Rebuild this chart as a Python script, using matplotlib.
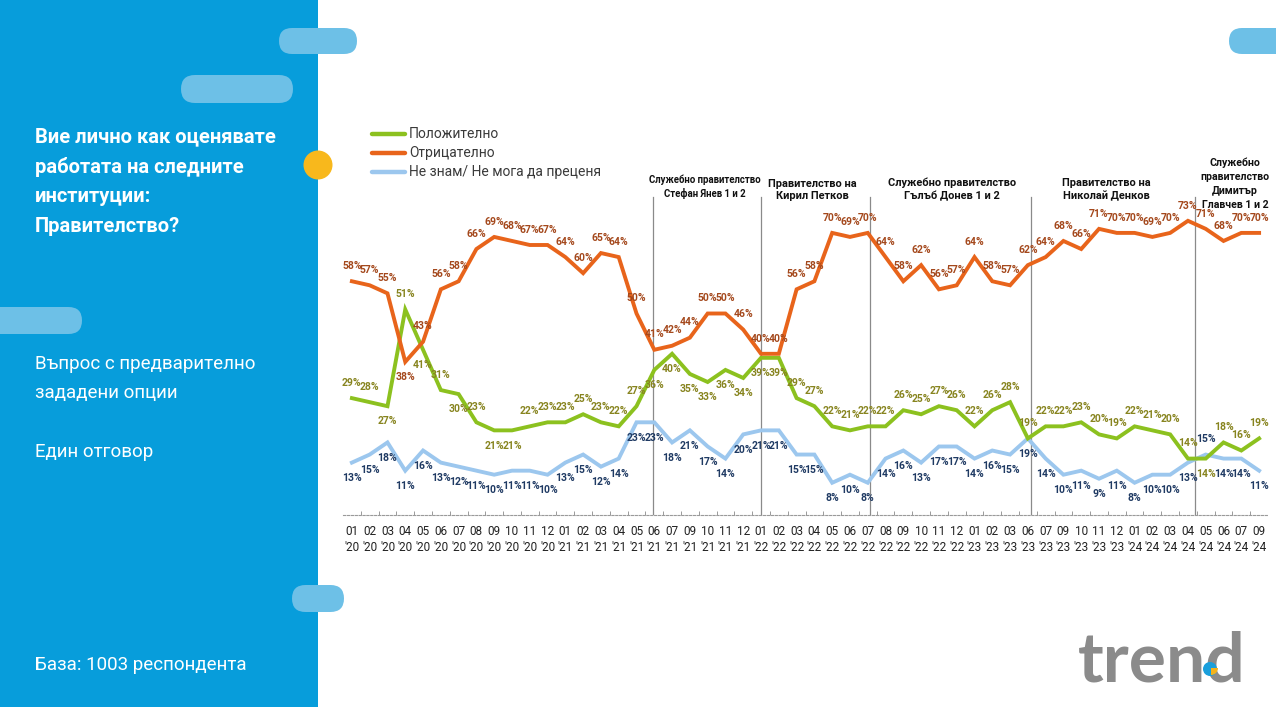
import matplotlib.pyplot as plt
from matplotlib.patches import FancyBboxPatch, Circle, Wedge, Rectangle
from matplotlib import font_manager

months = ["01\n'20", "02\n'20", "03\n'20", "04\n'20", "05\n'20", "06\n'20", "07\n'20", "08\n'20",
          "09\n'20", "10\n'20", "11\n'20", "12\n'20", "01\n'21", "02\n'21", "03\n'21", "04\n'21",
          "05\n'21", "06\n'21", "07\n'21", "09\n'21", "10\n'21", "11\n'21", "12\n'21", "01\n'22",
          "02\n'22", "03\n'22", "04\n'22", "05\n'22", "06\n'22", "07\n'22", "08\n'22", "09\n'22",
          "10\n'22", "11\n'22", "12\n'22", "01\n'23", "02\n'23", "03\n'23", "06\n'23", "07\n'23",
          "09\n'23", "10\n'23", "11\n'23", "12\n'23", "01\n'24", "02\n'24", "03\n'24", "04\n'24",
          "05\n'24", "06\n'24", "07\n'24", "09\n'24"]

positive = [29, 28, 27, 51, 41, 31, 30, 23, 21, 21, 22, 23, 23, 25, 23, 22, 27, 36, 40, 35, 33, 36,
            34, 39, 39, 29, 27, 22, 21, 22, 22, 26, 25, 27, 26, 22, 26, 28, 19, 22, 22, 23, 20, 19,
            22, 21, 20, 14, 14, 18, 16, 19]
negative = [58, 57, 55, 38, 43, 56, 58, 66, 69, 68, 67, 67, 64, 60, 65, 64, 50, 41, 42, 44, 50, 50,
            46, 40, 40, 56, 58, 70, 69, 70, 64, 58, 62, 56, 57, 64, 58, 57, 62, 64, 68, 66, 71, 70,
            70, 69, 70, 73, 71, 68, 70, 70]
dont_know = [13, 15, 18, 11, 16, 13, 12, 11, 10, 11, 11, 10, 13, 15, 12, 14, 23, 23, 18, 21, 17, 14,
             20, 21, 21, 15, 15, 8, 10, 8, 14, 16, 13, 17, 17, 14, 16, 15, 19, 14, 10, 11, 9, 11,
             8, 10, 10, 13, 15, 14, 14, 11]

series_names = ["Положително", "Отрицателно", "Не знам/ Не мога да преценя"]

# which labels go on the other side of the line
pos_below = [2, 4, 6, 8, 9, 17, 18, 19, 20, 21, 22, 23, 24, 48]
neg_below = [3]
dk_above = [48]

gov_lines = [16.9, 23.0, 29.1, 38.2, 47.4]
gov_names = ["Служебно правителство\nСтефан Янев 1 и 2",
             "Правителство на\nКирил Петков",
             "Служебно правителство\nГълъб Донев 1 и 2",
             "Правителство на\nНиколай Денков",
             "Служебно\nправителство\nДимитър\nГлавчев 1 и 2"]

names = {f.name for f in font_manager.fontManager.ttflist}
cond = 'Liberation Sans Narrow' if 'Liberation Sans Narrow' in names else 'Roboto'

GREEN = '#8cc11f'
ORANGE = '#e8641b'
LBLUE = '#9cc7ee'
PANEL = '#079ddb'
PILL = '#6dc0e7'

fig = plt.figure(figsize=(12.76, 7.07), dpi=100)

# background / decorations in pixel coordinates
bg = fig.add_axes([0, 0, 1, 1])
bg.set_xlim(0, 1276)
bg.set_ylim(707, 0)
bg.axis('off')
bg.add_patch(Rectangle((0, 0), 318, 707, facecolor=PANEL, edgecolor='none'))


def pill(x0, y0, x1, y1):
    h = y1 - y0
    bg.add_patch(FancyBboxPatch((x0, y0), x1 - x0, h,
                                boxstyle="round,pad=0,rounding_size=%f" % (h / 2),
                                facecolor=PILL, edgecolor='none'))


pill(279, 28, 357, 54)
pill(181, 75, 293, 103)
pill(-30, 307, 82, 334)
pill(292, 585, 344, 612)
pill(1229, 28, 1310, 54)
bg.add_patch(Circle((318, 165), 14.5, facecolor='#f8b81c', edgecolor='none'))

title_lines = ["Вие лично как оценявате", "работата на следните", "институции:", "Правителство?"]
for i, t in enumerate(title_lines):
    bg.text(35, 137 + i * 29.7, t, color='white', fontsize=14.5, fontweight='bold',
            family='Roboto', va='center', ha='left')
bg.text(35, 364, "Въпрос с предварително", color='white', fontsize=13.5, family='Roboto',
        va='center')
bg.text(35, 393, "зададени опции", color='white', fontsize=13.5, family='Roboto',
        va='center')
bg.text(35, 452, "Един отговор", color='white', fontsize=13.5, family='Roboto',
        va='center')
bg.text(35, 665, "База: 1003 респондента", color='white', fontsize=13.5, family='Roboto',
        va='center')

# logo
bg.text(1162, 662, "trend", color='#8b8b8b', fontsize=50, family='Lato', fontweight='bold',
        ha='center', va='center')
bg.add_patch(Circle((1210, 669), 7, facecolor='#1a9fdc', edgecolor='none', zorder=5))
bg.add_patch(Wedge((1211, 668), 7, 0, 90, facecolor='#f6b31b', edgecolor='none', zorder=6))

# legend
for i, (nm, c) in enumerate(zip(series_names, [GREEN, ORANGE, LBLUE])):
    y = 134 + i * 19
    bg.plot([372, 405], [y, y], color=c, lw=3.2, solid_capstyle='round')
    bg.text(409, y, nm, color='#3a3a3a', fontsize=10, family=cond, va='center')

# chart
ax = fig.add_axes([343 / 1276, 1 - 515 / 707, 925 / 1276, 322.4 / 707])
ax.patch.set_alpha(0)
x = list(range(len(months)))
ax.set_xlim(-0.5, len(months) - 0.5)
ax.set_ylim(0, 80)

for gx in gov_lines:
    ax.axvline(gx, 0, 0.985, color='#8a8a8a', lw=0.9, zorder=1)

ax.plot(x, dont_know, color=LBLUE, lw=2.8, zorder=3, solid_joinstyle='miter')
ax.plot(x, positive, color=GREEN, lw=2.8, zorder=4, solid_joinstyle='miter')
ax.plot(x, negative, color=ORANGE, lw=2.8, zorder=5, solid_joinstyle='miter')

lab_kw = dict(fontsize=7.5, fontweight='bold', family=cond, ha='center', va='center',
              textcoords='offset points', zorder=6)
for i in x:
    off = -11 if i in neg_below else 11
    ax.annotate(f"{negative[i]}%", (i, negative[i]), xytext=(0, off), color='#a4481c', **lab_kw)
    off = -11 if i in pos_below else 11
    ax.annotate(f"{positive[i]}%", (i, positive[i]), xytext=(0, off), color='#87841f', **lab_kw)
    off = 11 if i in dk_above else -11
    ax.annotate(f"{dont_know[i]}%", (i, dont_know[i]), xytext=(0, off), color='#1f3a63', **lab_kw)

# government labels
gov_x = [705, 812, 952, 1106, 1235]
gov_size = [6.9, 7.9, 7.9, 7.9, 7.6]
gov_bottom = [199, 201, 201, 201, 210]
gov_spacing = [1.3, 1.3, 1.3, 1.3, 1.5]
for t, gx, fs, yb, ls in zip(gov_names, gov_x, gov_size, gov_bottom, gov_spacing):
    bg.text(gx, yb, t, fontsize=fs, fontweight='bold', family=cond, ha='center', va='bottom',
            color='#111111', linespacing=ls)

for s in ['top', 'right', 'left']:
    ax.spines[s].set_visible(False)
ax.spines['bottom'].set_color('#9a9a9a')
ax.spines['bottom'].set_linestyle((0, (2, 1.5)))
ax.spines['bottom'].set_linewidth(0.8)
ax.set_yticks([])
ax.set_xticks(x)
ax.set_xticklabels(months, fontsize=8.5, family=cond, color='#222222', linespacing=1.3)
ax.tick_params(axis='x', length=0, pad=7)
ax.set_xticks([i + 0.5 for i in x[:-1]], minor=True)
ax.tick_params(axis='x', which='minor', direction='in', length=3, color='#9a9a9a', width=0.7)

fig.savefig('out.png', dpi=100)
